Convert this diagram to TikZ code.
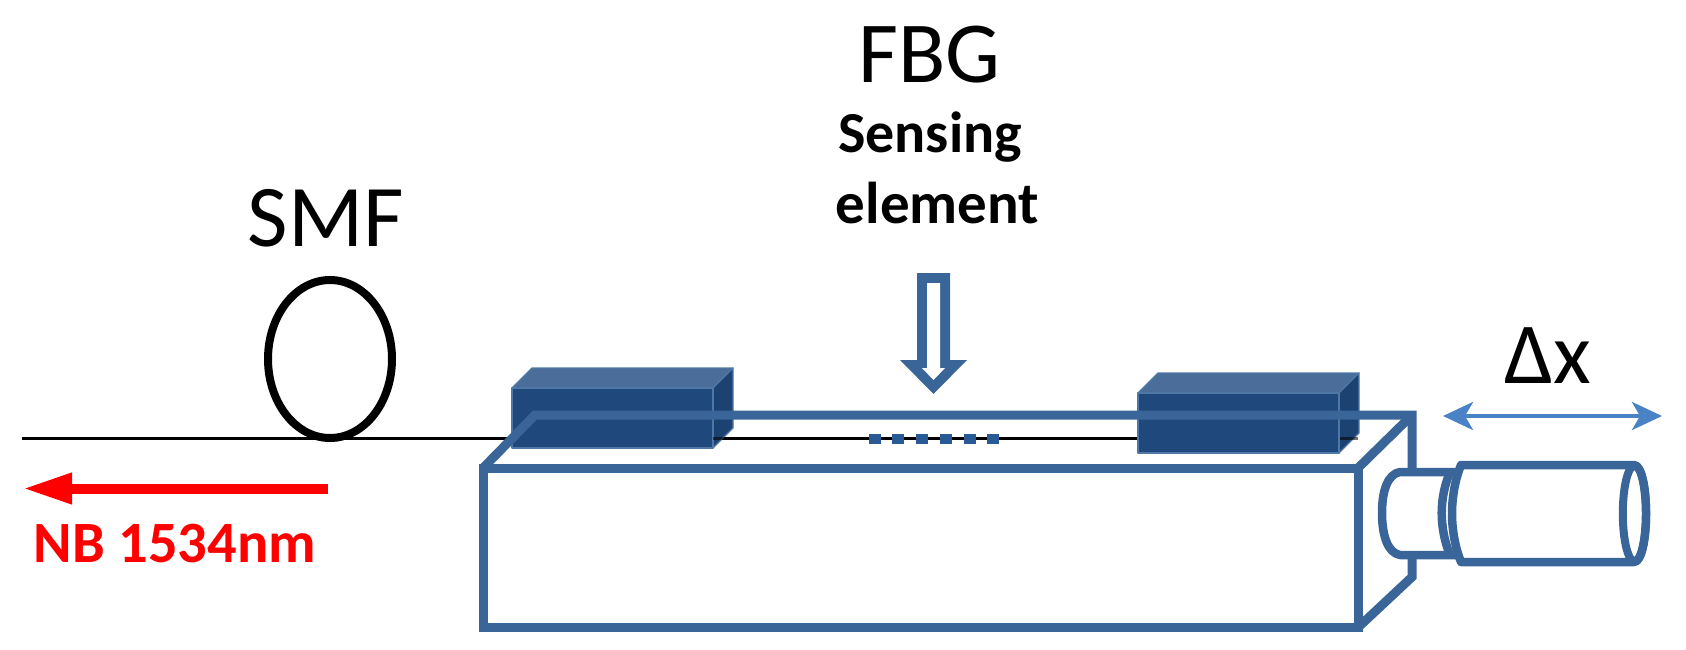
\documentclass[tikz,border=0pt]{standalone}
\usepackage{fontspec}
\setmainfont{Carlito}
\usetikzlibrary{arrows.meta}
\definecolor{bandblue}{HTML}{3A6598}
\definecolor{blockfront}{HTML}{1F497D}
\definecolor{blocktop}{HTML}{4A6D99}
\definecolor{blockside}{HTML}{1C4272}
\definecolor{blockedge}{HTML}{5078A6}
\definecolor{gratingblue}{HTML}{2A5A95}
\definecolor{travelblue}{HTML}{4A82C6}
\definecolor{signalred}{HTML}{FF0000}
\tikzset{
  x=1pt,y=-1pt,
  band/.style={draw=bandblue,line width=9pt,line join=miter},
  fibre/.style={draw=black,line width=3.7pt},
  blockface/.style={draw=blockedge,line width=1.2pt,line join=round},
  cyl/.style={draw=bandblue,line width=8.5pt,fill=white,line join=round},
  label/.style={inner sep=0pt,anchor=base},
}
\newcommand{\pxfont}[1]{\fontsize{#1}{#1}\selectfont}
\newcommand{\clampblock}[1]{%
  \begin{scope}[xshift=#1pt]
    \path[blockface,fill=blocktop] (0,0) -- (20,-20) -- (221,-20) -- (201,0) -- cycle;
    \path[blockface,fill=blockside] (201,0) -- (221,-20) -- (221,40) -- (201,60) -- cycle;
    \path[blockface,fill=blockfront] (0,0) rectangle (201,60);
  \end{scope}}
\begin{document}
\begin{tikzpicture}
\useasboundingbox (0,0) rectangle (1686,650);
% fibre
\draw[fibre] (22,438.5) -- (1140,438.5);
% loop
\draw[black,line width=8pt] (330,359) ellipse [x radius=62,y radius=79];
% clamps
\begin{scope}[yshift=-388pt]\clampblock{512}\end{scope}
\begin{scope}[yshift=-393pt]\clampblock{1138}\end{scope}
\draw[black,opacity=.55,line width=2.5pt] (713,438.5) -- (730,438.5);
\draw[black,opacity=.55,line width=2.5pt] (1340,438.5) -- (1358,438.5);
% stage
\draw[band] (483,468) rectangle (1358,627.5);
\draw[band] (483,468) -- (535,415) -- (1412,415) -- (1412,577) -- (1358,627.5);
\draw[band] (1358,468) -- (1408,419);
% grating
\foreach \gx in {875,898,922,946,970,993}
  \fill[gratingblue] (\gx-6,434) rectangle (\gx+6,444);
% hollow arrow
\fill[bandblue] (917,273) -- (950,273) -- (950,360) -- (967,360) -- (933.5,394) -- (900,360) -- (917,360) -- cycle;
\fill[white] (927,283) -- (940,283) -- (940,368) -- (945,368) -- (933.5,380) -- (922,368) -- (927,368) -- cycle;
% actuator
\path[cyl] (1458,472) -- (1400,472) .. controls (1388,474) and (1382,490) .. (1382,513)
  .. controls (1382,536) and (1388,553) .. (1400,555) -- (1458,555);
\draw[bandblue,line width=8.5pt] (1450,472) .. controls (1445,484) and (1441.7,498) .. (1441.7,513)
  .. controls (1441.7,528) and (1445,543) .. (1450,555);
\path[cyl] (1461,465) -- (1634,465) .. controls (1642,465) and (1646,490) .. (1646,513.5)
  .. controls (1646,537) and (1642,562) .. (1634,562) -- (1461,562)
  .. controls (1456,550) and (1452,532) .. (1452,513.5)
  .. controls (1452,495) and (1456,477) .. (1461,465) -- cycle;
\draw[bandblue,line width=8pt] (1634.5,513.5) ellipse [x radius=11.7,y radius=48];
% arrows
\draw[travelblue,line width=4pt,{Stealth[length=30pt,width=28pt,inset=8pt]}-{Stealth[length=30pt,width=28pt,inset=8pt]}] (1443,416) -- (1662,416);
\draw[signalred,line width=10pt,-{Triangle[length=49pt,width=29pt]}] (328,488.5) -- (23,488.5);
% text
\node[label] (smf) at (326,246) {\pxfont{88}SMF};
\node[label] (fbg) at (929.5,83) {\pxfont{87}FBG};
\node[label] (sensing) at (930,153) {\pxfont{58}\bfseries Sensing};
\node[label] (element) at (937.5,223) {\pxfont{59}\bfseries element};
\node[label,text=signalred] (nb) at (175,562) {\pxfont{58.5}\bfseries NB 1534nm};
\node[label] (dx) at (1547.5,383) {\pxfont{87}Δx};
\end{tikzpicture}
\end{document}
